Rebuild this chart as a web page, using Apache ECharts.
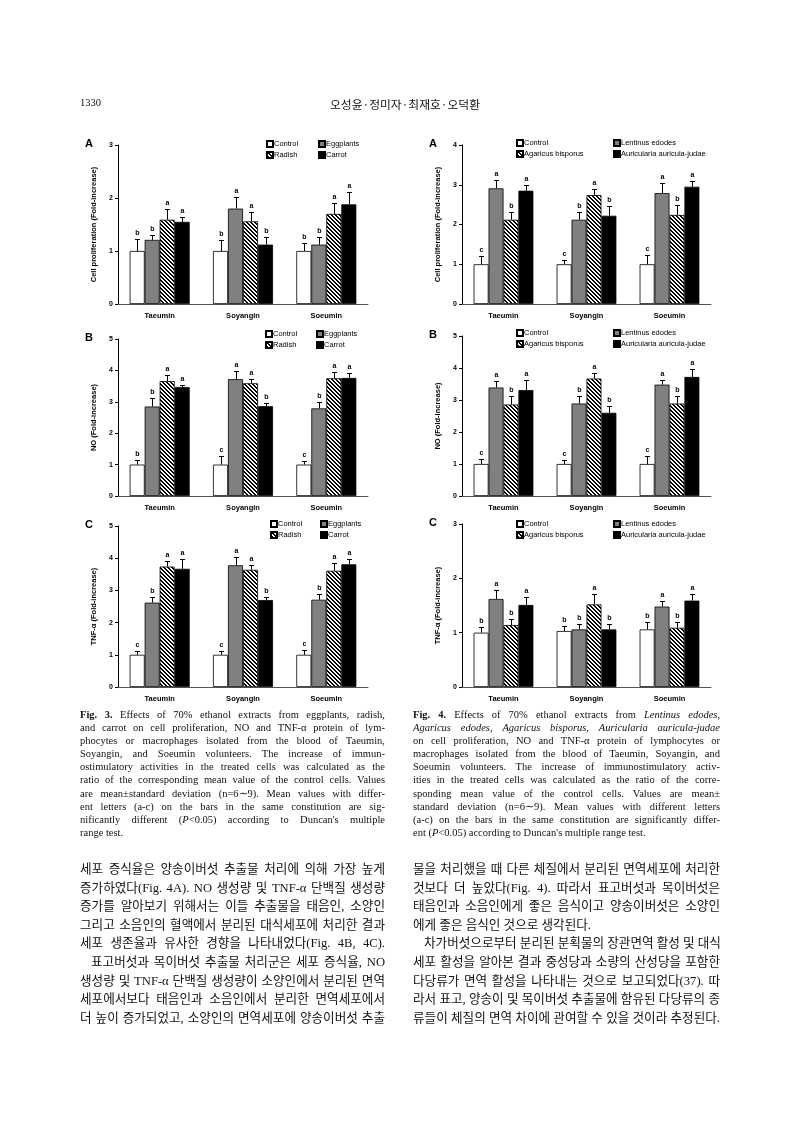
<!DOCTYPE html>
<html><head><meta charset="utf-8">
<script src="https://cdn.jsdelivr.net/npm/echarts@6/dist/echarts.min.js"></script>
<style>
html,body{margin:0;padding:0;background:#fff;}
#page{position:relative;width:793px;height:1122px;overflow:hidden;background:#fff;}
#chart{position:absolute;left:0;top:0;width:793px;height:1122px;}
.txt{position:absolute;color:#111;}
.cap{font-family:"Liberation Serif","Times New Roman",serif;font-size:10.5px;line-height:13.1px;}
.kr{font-family:"Liberation Serif","Noto Sans CJK KR",serif;font-size:12.6px;line-height:18.6px;}
.ln{white-space:nowrap;text-align:justify;text-align-last:justify;}
.ln.last{text-align-last:left;}
.ind{text-indent:11px;}
</style></head>
<body>
<div id="page">
<div id="chart"></div>
<div class="txt" style="left:80px;top:97px;font-family:'Liberation Serif',serif;font-size:10.5px;">1330</div>
<div class="txt" style="left:300px;top:95px;width:210px;text-align:center;font-family:'Noto Sans CJK KR',sans-serif;font-size:11.8px;">오성윤·정미자·최재호·오덕환</div>

<div class="txt cap" style="left:80px;top:708px;width:305px;">
<div class="ln"><b>Fig. 3.</b> Effects of 70% ethanol extracts from eggplants, radish,</div>
<div class="ln">and carrot on cell proliferation, NO and TNF-α protein of lym-</div>
<div class="ln">phocytes or macrophages isolated from the blood of Taeumin,</div>
<div class="ln">Soyangin, and Soeumin volunteers. The increase of immun-</div>
<div class="ln">ostimulatory activities in the treated cells was calculated as the</div>
<div class="ln">ratio of the corresponding mean value of the control cells. Values</div>
<div class="ln">are mean±standard deviation (n=6∼9). Mean values with differ-</div>
<div class="ln">ent letters (a-c) on the bars in the same constitution are sig-</div>
<div class="ln">nificantly different (<i>P</i>&lt;0.05) according to Duncan's multiple</div>
<div class="ln last">range test.</div>
</div>

<div class="txt cap" style="left:413px;top:708px;width:307px;">
<div class="ln"><b>Fig. 4.</b> Effects of 70% ethanol extracts from <i>Lentinus edodes</i>,</div>
<div class="ln"><i>Agaricus edodes</i>, <i>Agaricus bisporus</i>, <i>Auricularia auricula-judae</i></div>
<div class="ln">on cell proliferation, NO and TNF-α protein of lymphocytes or</div>
<div class="ln">macrophages isolated from the blood of Taeumin, Soyangin, and</div>
<div class="ln">Soeumin volunteers. The increase of immunostimulatory activ-</div>
<div class="ln">ities in the treated cells was calculated as the ratio of the corre-</div>
<div class="ln">sponding mean value of the control cells. Values are mean±</div>
<div class="ln">standard deviation (n=6∼9). Mean values with different letters</div>
<div class="ln">(a-c) on the bars in the same constitution are significantly differ-</div>
<div class="ln last">ent (<i>P</i>&lt;0.05) according to Duncan's multiple range test.</div>
</div>

<div class="txt kr" style="left:80px;top:860px;width:305px;">
<div class="ln">세포 증식율은 양송이버섯 추출물 처리에 의해 가장 높게</div>
<div class="ln">증가하였다(Fig. 4A). NO 생성량 및 TNF-α 단백질 생성량</div>
<div class="ln">증가를 알아보기 위해서는 이들 추출물을 태음인, 소양인</div>
<div class="ln">그리고 소음인의 혈액에서 분리된 대식세포에 처리한 결과</div>
<div class="ln">세포 생존율과 유사한 경향을 나타내었다(Fig. 4B, 4C).</div>
<div class="ln ind">표고버섯과 목이버섯 추출물 처리군은 세포 증식율, NO</div>
<div class="ln">생성량 및 TNF-α 단백질 생성량이 소양인에서 분리된 면역</div>
<div class="ln">세포에서보다 태음인과 소음인에서 분리한 면역세포에서</div>
<div class="ln">더 높이 증가되었고, 소양인의 면역세포에 양송이버섯 추출</div>
</div>

<div class="txt kr" style="left:413px;top:860px;width:307px;">
<div class="ln">물을 처리했을 때 다른 체질에서 분리된 면역세포에 처리한</div>
<div class="ln">것보다 더 높았다(Fig. 4). 따라서 표고버섯과 목이버섯은</div>
<div class="ln">태음인과 소음인에게 좋은 음식이고 양송이버섯은 소양인</div>
<div class="ln last">에게 좋은 음식인 것으로 생각된다.</div>
<div class="ln ind">차가버섯으로부터 분리된 분획물의 장관면역 활성 및 대식</div>
<div class="ln">세포 활성을 알아본 결과 중성당과 소량의 산성당을 포함한</div>
<div class="ln">다당류가 면역 활성을 나타내는 것으로 보고되었다(37). 따</div>
<div class="ln">라서 표고, 양송이 및 목이버섯 추출물에 함유된 다당류의 종</div>
<div class="ln">류들이 체질의 면역 차이에 관여할 수 있을 것이라 추정된다.</div>
</div>
</div>

<script>
// ---------------- DATA ----------------
const categories = ['Taeumin', 'Soyangin', 'Soeumin'];
const fig3Names = ['Control', 'Eggplants', 'Radish', 'Carrot'];
const fig4Names = ['Control', 'Lentinus edodes', 'Agaricus bisporus', 'Auricularia auricula-judae'];
const yTitles = ['Cell proliferation (Fold-increase)', 'NO (Fold-increase)', 'TNF-α (Fold-increase)'];
const yMaxFig3 = [3, 5, 5];
const yMaxFig4 = [4, 5, 3];
const panelLetters = ['A', 'B', 'C'];

// rows = treatments (in legend order), columns = categories
const fig3A_mean = [[1.00, 1.00, 1.00], [1.21, 1.80, 1.12], [1.59, 1.56, 1.70], [1.55, 1.12, 1.88]];
const fig3A_sd   = [[0.22, 0.21, 0.16], [0.09, 0.21, 0.14], [0.20, 0.17, 0.21], [0.09, 0.14, 0.24]];
const fig3A_let  = [['b', 'b', 'b'], ['b', 'a', 'b'], ['a', 'a', 'a'], ['a', 'b', 'a']];

const fig3B_mean = [[1.00, 1.00, 1.00], [2.85, 3.72, 2.79], [3.66, 3.59, 3.75], [3.47, 2.86, 3.76]];
const fig3B_sd   = [[0.16, 0.27, 0.12], [0.26, 0.27, 0.20], [0.19, 0.15, 0.19], [0.08, 0.09, 0.17]];
const fig3B_let  = [['b', 'c', 'c'], ['b', 'a', 'b'], ['a', 'a', 'a'], ['a', 'b', 'a']];

const fig3C_mean = [[1.00, 1.00, 1.00], [2.62, 3.78, 2.71], [3.74, 3.64, 3.61], [3.67, 2.70, 3.81]];
const fig3C_sd   = [[0.13, 0.11, 0.16], [0.19, 0.27, 0.18], [0.16, 0.16, 0.23], [0.32, 0.08, 0.17]];
const fig3C_let  = [['c', 'c', 'c'], ['b', 'a', 'b'], ['a', 'a', 'a'], ['a', 'b', 'a']];

const fig4A_mean = [[1.00, 1.00, 1.00], [2.91, 2.12, 2.79], [2.12, 2.74, 2.24], [2.85, 2.22, 2.95]];
const fig4A_sd   = [[0.20, 0.11, 0.23], [0.20, 0.20, 0.25], [0.20, 0.15, 0.25], [0.15, 0.24, 0.14]];
const fig4A_let  = [['c', 'c', 'c'], ['a', 'b', 'a'], ['b', 'a', 'b'], ['a', 'b', 'a']];

const fig4B_mean = [[1.00, 1.00, 1.00], [3.39, 2.89, 3.48], [2.86, 3.67, 2.89], [3.31, 2.60, 3.72]];
const fig4B_sd   = [[0.17, 0.13, 0.24], [0.19, 0.25, 0.13], [0.25, 0.18, 0.22], [0.30, 0.21, 0.26]];
const fig4B_let  = [['c', 'c', 'c'], ['a', 'b', 'a'], ['b', 'a', 'b'], ['a', 'b', 'a']];

const fig4C_mean = [[1.00, 1.03, 1.06], [1.62, 1.06, 1.48], [1.14, 1.52, 1.09], [1.51, 1.06, 1.59]];
const fig4C_sd   = [[0.11, 0.10, 0.14], [0.16, 0.10, 0.11], [0.11, 0.20, 0.10], [0.14, 0.10, 0.13]];
const fig4C_let  = [['b', 'b', 'b'], ['a', 'b', 'a'], ['b', 'a', 'b'], ['a', 'b', 'a']];

// ---------------- STYLE / LAYOUT ----------------
function stripes() {
  const n = 4, c = document.createElement('canvas');
  c.width = n; c.height = n;
  const ctx = c.getContext('2d'), img = ctx.createImageData(n, n);
  for (let y = 0; y < n; y++) for (let x = 0; x < n; x++) {
    const d = ((x - y) % n + n) % n, v = d < 2 ? 0 : 255, i = (y * n + x) * 4;
    img.data[i] = img.data[i + 1] = img.data[i + 2] = v; img.data[i + 3] = 255;
  }
  ctx.putImageData(img, 0, 0);
  return c;
}
const stripeImg = stripes();
const fills = ['#ffffff', '#808080', { image: stripeImg, repeat: 'repeat' }, '#000000'];
const FONT = 'Liberation Sans, Arial, sans-serif';
const GAP = 0.28; // barCategoryGap fraction

const panels = [
  { mean: fig3A_mean, sd: fig3A_sd, let: fig3A_let, names: fig3Names, max: yMaxFig3[0], title: yTitles[0], letter: panelLetters[0], x: 118, y: 145, w: 250, h: 159, lg: [266, 318], lgy: 140 },
  { mean: fig3B_mean, sd: fig3B_sd, let: fig3B_let, names: fig3Names, max: yMaxFig3[1], title: yTitles[1], letter: panelLetters[1], x: 118, y: 339, w: 250, h: 157, lg: [265, 316], lgy: 330 },
  { mean: fig3C_mean, sd: fig3C_sd, let: fig3C_let, names: fig3Names, max: yMaxFig3[2], title: yTitles[2], letter: panelLetters[2], x: 118, y: 526, w: 250, h: 161, lg: [270, 320], lgy: 520 },
  { mean: fig4A_mean, sd: fig4A_sd, let: fig4A_let, names: fig4Names, max: yMaxFig4[0], title: yTitles[0], letter: panelLetters[0], x: 462, y: 145, w: 249, h: 159, lg: [516, 613], lgy: 139 },
  { mean: fig4B_mean, sd: fig4B_sd, let: fig4B_let, names: fig4Names, max: yMaxFig4[1], title: yTitles[1], letter: panelLetters[1], x: 462, y: 336, w: 249, h: 160, lg: [516, 613], lgy: 329 },
  { mean: fig4C_mean, sd: fig4C_sd, let: fig4C_let, names: fig4Names, max: yMaxFig4[2], title: yTitles[2], letter: panelLetters[2], x: 462, y: 524, w: 249, h: 163, lg: [516, 613], lgy: 520 }
];

const grid = [], xAxis = [], yAxis = [], series = [], legend = [], graphic = [];
panels.forEach((p, pi) => {
  grid.push({ left: p.x, top: p.y, width: p.w, height: p.h });
  xAxis.push({
    type: 'category', gridIndex: pi, data: categories,
    axisLine: { lineStyle: { color: '#555', width: 1 } }, axisTick: { show: false },
    axisLabel: { fontFamily: FONT, fontSize: 7.5, fontWeight: 'bold', color: '#000', margin: 8 }
  });
  yAxis.push({
    type: 'value', gridIndex: pi, min: 0, max: p.max, interval: 1,
    name: p.title, nameLocation: 'middle', nameRotate: 90, nameGap: 20,
    nameTextStyle: { fontFamily: FONT, fontSize: 7.5, fontWeight: 'bold', color: '#000' },
    axisLine: { show: true, lineStyle: { color: '#000', width: 1 } },
    axisTick: { show: true, length: 3, lineStyle: { color: '#000' } },
    splitLine: { show: false },
    axisLabel: { fontFamily: FONT, fontSize: 7, fontWeight: 'bold', color: '#000', margin: 5 }
  });
  p.names.forEach((nm, k) => {
    series.push({
      type: 'bar', name: nm, xAxisIndex: pi, yAxisIndex: pi, data: p.mean[k],
      barGap: '0%', barCategoryGap: (GAP * 100) + '%', animation: false, silent: true,
      itemStyle: { color: fills[k], borderColor: '#000', borderWidth: 0.8 }
    });
  });
  const errData = [];
  p.names.forEach((nm, k) => categories.forEach((c, ci) => errData.push([ci, k, p.mean[k][ci], p.sd[k][ci]])));
  const lets = p.let;
  series.push({
    type: 'custom', xAxisIndex: pi, yAxisIndex: pi, data: errData, encode: { x: 0, y: 2 },
    animation: false, silent: true, z: 5,
    renderItem: function (params, api) {
      const ci = api.value(0), k = api.value(1), m = api.value(2), s = api.value(3);
      const band = api.size([1, 0])[0];
      const bw = band * (1 - GAP) / 4;
      const base = api.coord([ci, 0]);
      const cx = Math.round(base[0] - band * (1 - GAP) / 2 + bw * (k + 0.5)) + 0.5;
      const yM = api.coord([ci, m])[1];
      const yT = Math.round(api.coord([ci, m + s])[1]) + 0.5;
      return {
        type: 'group', children: [
          { type: 'line', shape: { x1: cx, y1: yM, x2: cx, y2: yT }, style: { stroke: '#000', lineWidth: 1 } },
          { type: 'line', shape: { x1: cx - 2.5, y1: yT, x2: cx + 2.5, y2: yT }, style: { stroke: '#000', lineWidth: 1 } },
          { type: 'text', x: cx, y: yT - 3, style: { text: lets[k][ci], textAlign: 'center', textVerticalAlign: 'bottom', font: 'bold 7px ' + FONT, fill: '#000' } }
        ]
      };
    }
  });
  [[0, 2], [1, 3]].forEach((col, c) => {
    legend.push({
      orient: 'vertical', left: p.lg[c], top: p.lgy, itemWidth: 6, itemHeight: 6, itemGap: 3,
      selectedMode: false, icon: 'rect',
      data: col.map(k => p.names[k]),
      textStyle: { fontFamily: FONT, fontSize: 7.5, color: '#000', padding: [0, 0, 0, -4] },
      padding: 0
    });
  });
  graphic.push({
    type: 'text', left: p.x - 33, top: p.y - 7,
    style: { text: p.letter, font: 'bold 11px ' + FONT, fill: '#000' }
  });
});

const chart = echarts.init(document.getElementById('chart'), null, { renderer: 'canvas' });
chart.setOption({ animation: false, grid, xAxis, yAxis, series, legend, graphic });
</script>
</body></html>
